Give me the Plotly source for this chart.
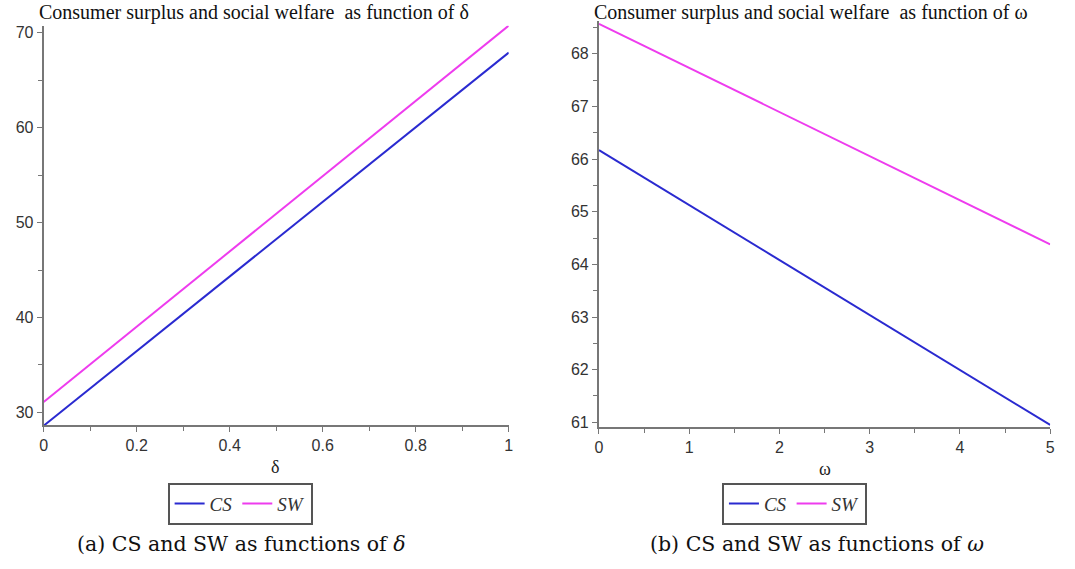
import plotly.graph_objects as go

# Data
delta = [0, 1]
cs_delta = [28.6, 67.9]
sw_delta = [31.1, 70.75]

omega = [0, 5]
cs_omega = [66.17, 60.95]
sw_omega = [68.57, 64.38]

BLUE = "#2a2ad0"
PINK = "#ee3cee"
SERIF = "Liberation Serif"
SANS = "Liberation Sans"
AX = "#777777"

fig = go.Figure()
fig.add_trace(go.Scatter(x=delta, y=cs_delta, mode="lines", name="<i>CS</i>",
                         line=dict(color=BLUE, width=2), xaxis="x", yaxis="y", legend="legend"))
fig.add_trace(go.Scatter(x=delta, y=sw_delta, mode="lines", name="<i>SW</i>",
                         line=dict(color=PINK, width=2), xaxis="x", yaxis="y", legend="legend"))
fig.add_trace(go.Scatter(x=omega, y=cs_omega, mode="lines", name="<i>CS</i>",
                         line=dict(color=BLUE, width=2), xaxis="x2", yaxis="y2", legend="legend2"))
fig.add_trace(go.Scatter(x=omega, y=sw_omega, mode="lines", name="<i>SW</i>",
                         line=dict(color=PINK, width=2), xaxis="x2", yaxis="y2", legend="legend2"))

def axstyle(**kw):
    d = dict(showline=True, linecolor=AX, linewidth=2, ticks="outside", ticklen=5,
             tickcolor=AX, tickwidth=1, showgrid=False, zeroline=False,
             tickfont=dict(family=SANS, size=16, color="#333"))
    d.update(kw)
    return d

legend_common = dict(orientation="h", xanchor="left", yanchor="top",
                     bordercolor="#555", borderwidth=2, bgcolor="white",
                     font=dict(family=SERIF, size=19, color="#333"), itemwidth=30,
                     tracegroupgap=0)

fig.update_layout(
    width=1075, height=569,
    margin=dict(l=0, r=0, t=0, b=0),
    paper_bgcolor="white", plot_bgcolor="white",
    xaxis=axstyle(domain=[40/1075, 509/1075], range=[0, 1], anchor="y",
                  tickvals=[0, 0.2, 0.4, 0.6, 0.8, 1], ticktext=["0", "0.2", "0.4", "0.6", "0.8", "1"],
                  minor=dict(dtick=0.1, tick0=0, ticks="outside", ticklen=4, tickcolor=AX)),
    yaxis=axstyle(domain=[1-428/569, 1-25/569], range=[28.65, 70.73], anchor="x",
                  tickvals=[30, 40, 50, 60, 70],
                  minor=dict(dtick=5, tick0=0, ticks="outside", ticklen=4, tickcolor=AX)),
    xaxis2=axstyle(domain=[600/1075, 1055/1075], range=[0, 5], anchor="y2",
                   tickvals=[0, 1, 2, 3, 4, 5],
                   minor=dict(dtick=0.5, tick0=0, ticks="outside", ticklen=4, tickcolor=AX)),
    yaxis2=axstyle(domain=[1-430/569, 1-20/569], range=[60.906, 68.627], anchor="x2",
                   tickvals=[61, 62, 63, 64, 65, 66, 67, 68],
                   minor=dict(dtick=0.5, tick0=0, ticks="outside", ticklen=4, tickcolor=AX)),
    legend=dict(x=165/1075, y=1-486/569, **legend_common),
    legend2=dict(x=724/1075, y=1-486/569, **legend_common),
    annotations=[
        dict(text="Consumer surplus and social welfare  as function of δ", x=33/1075, y=1-12/569,
             xref="paper", yref="paper", xanchor="left", yanchor="middle", showarrow=False,
             font=dict(family=SERIF, size=20, color="#111")),
        dict(text="Consumer surplus and social welfare  as function of ω", x=593/1075, y=1-12/569,
             xref="paper", yref="paper", xanchor="left", yanchor="middle", showarrow=False,
             font=dict(family=SERIF, size=20, color="#111")),
        dict(text="δ", x=273/1075, y=1-470/569, xref="paper", yref="paper",
             xanchor="center", yanchor="middle", showarrow=False,
             font=dict(family=SERIF, size=18, color="#222")),
        dict(text="ω", x=828/1075, y=1-472/569, xref="paper", yref="paper",
             xanchor="center", yanchor="middle", showarrow=False,
             font=dict(family=SERIF, size=18, color="#222")),
        dict(text="(a) CS and SW as functions of <i>δ</i>", x=240/1075, y=1-548/569,
             xref="paper", yref="paper", xanchor="center", yanchor="middle", showarrow=False,
             font=dict(family="DejaVu Serif", size=20.5, color="#111")),
        dict(text="(b) CS and SW as functions of <i>ω</i>", x=820/1075, y=1-548/569,
             xref="paper", yref="paper", xanchor="center", yanchor="middle", showarrow=False,
             font=dict(family="DejaVu Serif", size=20.5, color="#111")),
    ],
)

fig.write_html("out.html")
